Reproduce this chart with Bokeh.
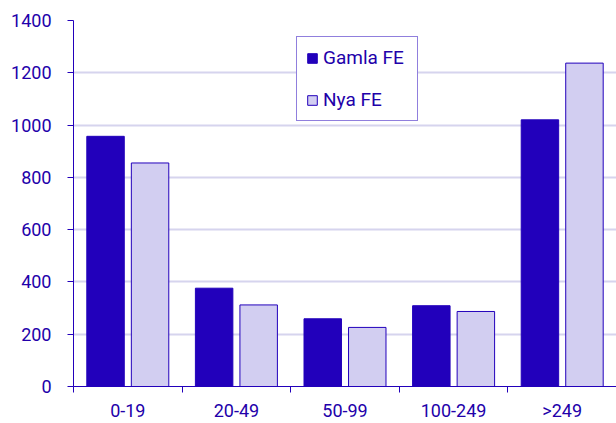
from bokeh.plotting import figure
from bokeh.models import ColumnDataSource, FixedTicker, Range1d, Legend, LegendItem
from bokeh.embed import file_html
from bokeh.resources import INLINE

categories = ["0-19", "20-49", "50-99", "100-249", ">249"]
gamla_fe = [957, 376, 259, 309, 1020]
nya_fe = [855, 312, 226, 287, 1237]
y_ticks = [0, 200, 400, 600, 800, 1000, 1200, 1400]

DARK = "#2200BB"
LIGHT = "#D2CEF1"
TEXT = "#2200AA"
GRID = "#D6D4EE"
FONT = "Roboto"

n = len(categories)
centers = [i + 0.5 for i in range(n)]
src = ColumnDataSource(dict(
    xg=[c - 0.205 for c in centers],
    xn=[c + 0.205 for c in centers],
    g=gamla_fe, ny=nya_fe,
))

p = figure(width=616, height=423, output_backend="svg", toolbar_location=None,
           x_range=Range1d(0, n), y_range=Range1d(0, 1400),
           min_border_left=73, min_border_top=20, min_border_bottom=37, min_border_right=0)
p.outline_line_color = None
p.background_fill_color = "white"

rg = p.vbar(x="xg", top="g", width=0.345, source=src, fill_color=DARK, line_color=DARK, line_width=1)
rn = p.vbar(x="xn", top="ny", width=0.345, source=src, fill_color=LIGHT, line_color=DARK, line_width=1)

# x axis
p.xaxis.ticker = FixedTicker(ticks=centers, minor_ticks=list(range(n + 1)))
p.xaxis.major_label_overrides = {c: lab for c, lab in zip(centers, categories)}
p.xaxis.major_tick_out = 0
p.xaxis.major_tick_in = 0
p.xaxis.minor_tick_out = 6
p.xaxis.minor_tick_in = 0
p.xaxis.minor_tick_line_color = DARK
p.xaxis.axis_line_color = DARK
p.xaxis.major_label_standoff = 7
p.xgrid.visible = False

# y axis
p.yaxis.ticker = FixedTicker(ticks=y_ticks)
p.yaxis.major_tick_out = 6
p.yaxis.major_tick_in = 0
p.yaxis.minor_tick_line_color = None
p.yaxis.major_tick_line_color = DARK
p.yaxis.axis_line_color = DARK
p.yaxis.major_label_standoff = 16
p.ygrid.grid_line_color = GRID
p.ygrid.grid_line_width = 2

for ax in (p.xaxis, p.yaxis):
    ax.major_label_text_font = FONT
    ax.major_label_text_font_size = "18px"
    ax.major_label_text_color = TEXT

legend = Legend(items=[LegendItem(label="Gamla FE", renderers=[rg]),
                       LegendItem(label="Nya FE", renderers=[rn])],
                location=(223, 265), orientation="vertical")
legend.border_line_color = DARK
legend.border_line_width = 1
legend.background_fill_color = "white"
legend.background_fill_alpha = 1
legend.label_text_font = FONT
legend.label_text_font_size = "19px"
legend.label_text_color = TEXT
legend.glyph_width = 12
legend.glyph_height = 12
legend.label_height = 20
legend.label_width = 85
legend.label_standoff = 5
legend.spacing = 19
legend.padding = 9
legend.margin = 0
p.add_layout(legend, "center")

open("out.html", "w").write(file_html(p, INLINE))
